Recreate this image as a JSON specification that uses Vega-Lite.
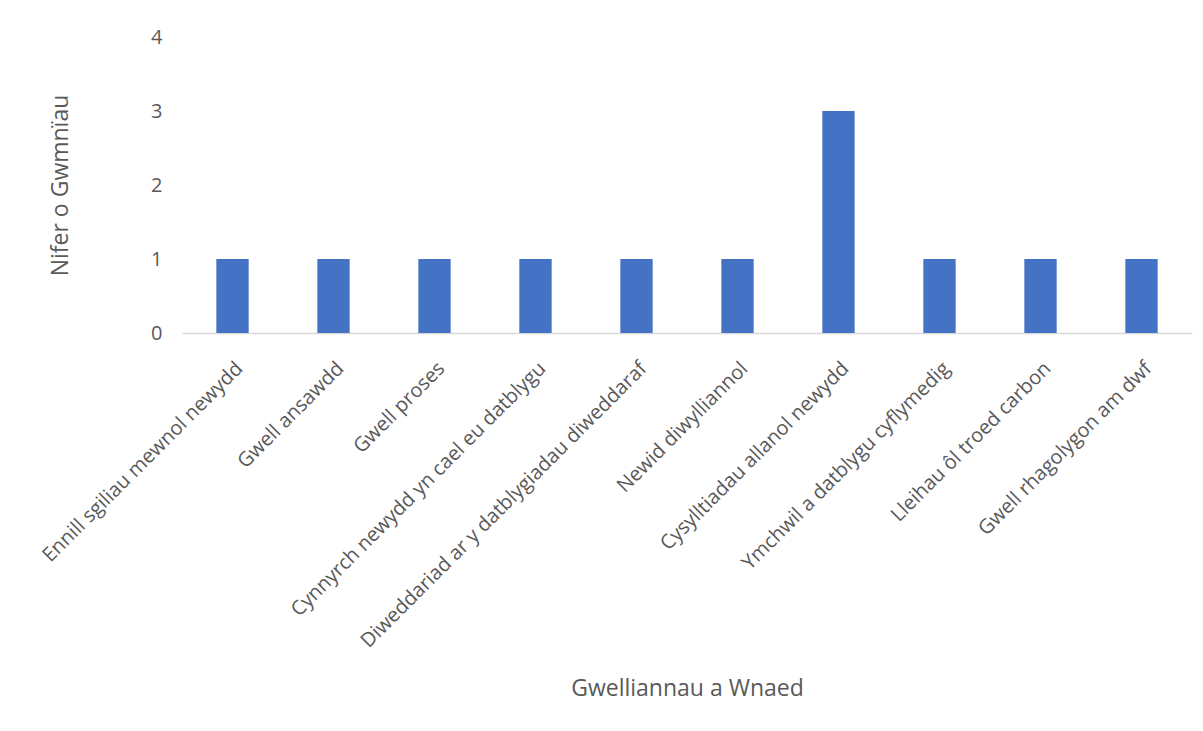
{
  "$schema": "https://vega.github.io/schema/vega-lite/v6.json",
  "autosize": "none",
  "width": 1010,
  "height": 296,
  "padding": {"left": 182, "top": 37, "right": 11, "bottom": 398},
  "background": "white",
  "data": {
    "values": [
      {"cat": "Ennill sgiliau mewnol newydd", "n": 1},
      {"cat": "Gwell ansawdd", "n": 1},
      {"cat": "Gwell proses", "n": 1},
      {"cat": "Cynnyrch newydd yn cael eu datblygu", "n": 1},
      {"cat": "Diweddariad ar y datblygiadau diweddaraf", "n": 1},
      {"cat": "Newid diwylliannol", "n": 1},
      {"cat": "Cysylltiadau allanol newydd", "n": 3},
      {"cat": "Ymchwil a datblygu cyflymedig", "n": 1},
      {"cat": "Lleihau ôl troed carbon", "n": 1},
      {"cat": "Gwell rhagolygon am dwf", "n": 1}
    ]
  },
  "mark": {"type": "bar", "color": "#4472C4"},
  "encoding": {
    "x": {
      "field": "cat",
      "type": "nominal",
      "sort": null,
      "scale": {"paddingInner": 0.68, "paddingOuter": 0.34},
      "axis": {
        "title": "Gwelliannau a Wnaed",
        "titleFont": "Open Sans",
        "titleFontSize": 23,
        "titleFontWeight": "normal",
        "titleColor": "#595959",
        "titleBaseline": "middle",
        "titleY": 355,
        "labelAngle": -45,
        "labelFont": "Open Sans",
        "labelFontSize": 20,
        "labelColor": "#595959",
        "labelPadding": 25,
        "labelLimit": 600,
        "ticks": false,
        "domainColor": "#D9D9D9",
        "domainWidth": 1.5
      }
    },
    "y": {
      "field": "n",
      "type": "quantitative",
      "scale": {"domain": [0, 4]},
      "axis": {
        "title": "Nifer o Gwmnïau",
        "titleFont": "Open Sans",
        "titleFontSize": 23,
        "titleFontWeight": "normal",
        "titleColor": "#595959",
        "titlePadding": 78,
        "values": [0, 1, 2, 3, 4],
        "format": "d",
        "labelFont": "Open Sans",
        "labelFontSize": 20,
        "labelColor": "#595959",
        "labelPadding": 20,
        "ticks": false,
        "domain": false,
        "grid": false
      }
    }
  },
  "config": {"view": {"stroke": null}}
}
